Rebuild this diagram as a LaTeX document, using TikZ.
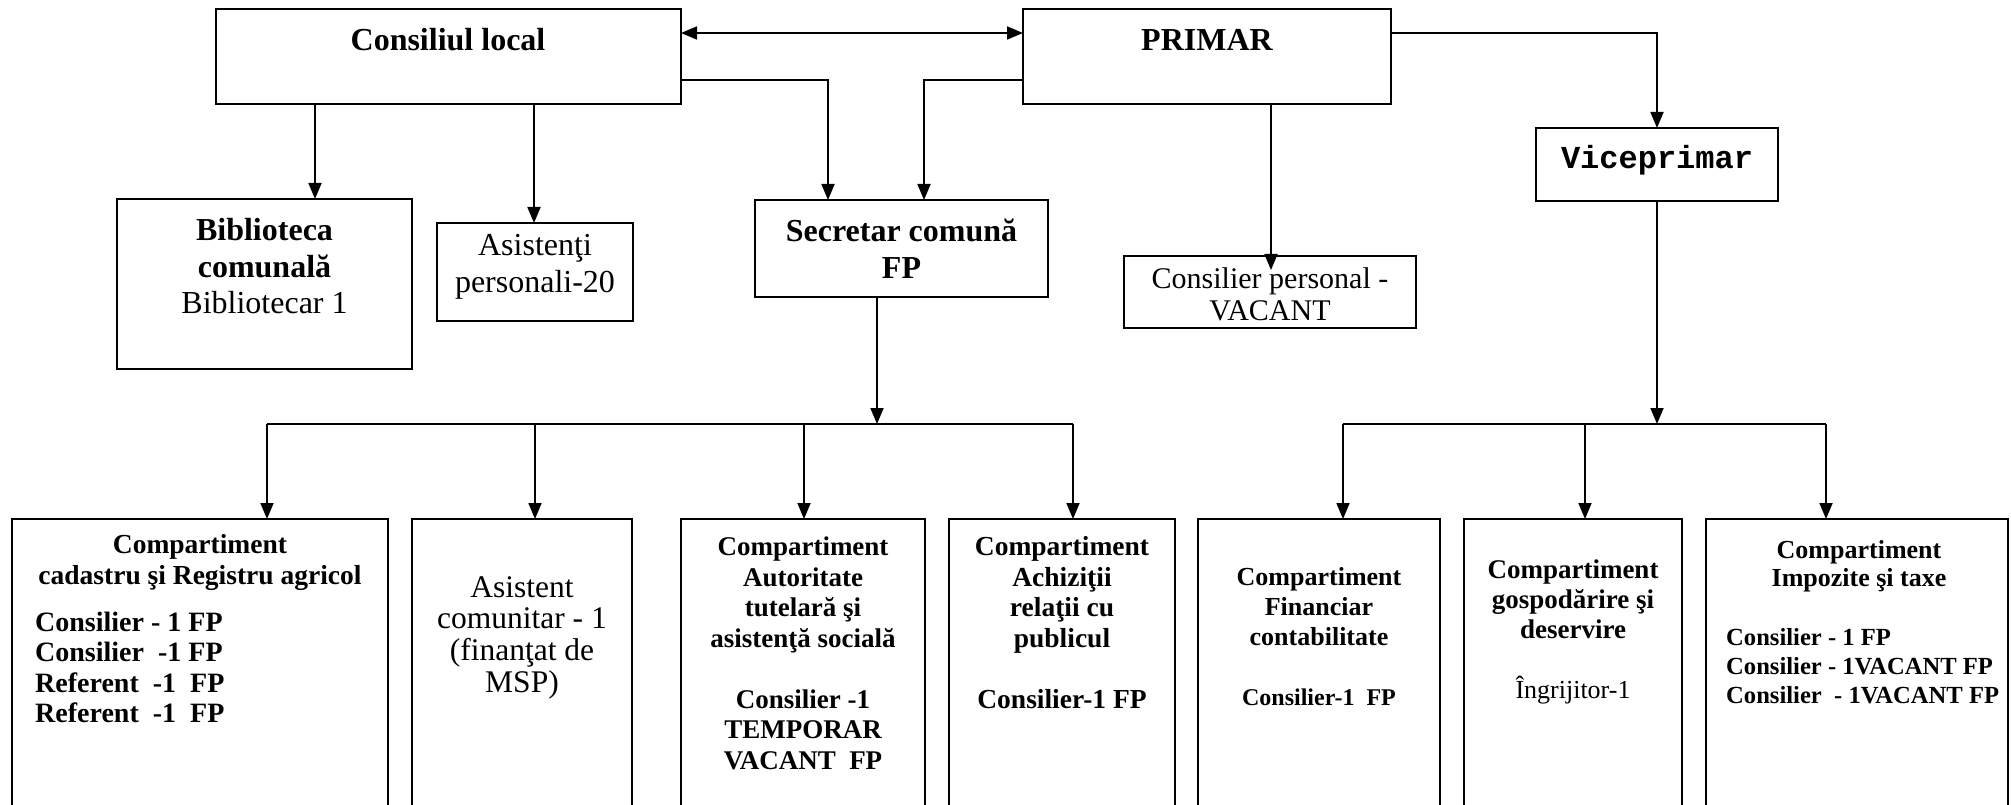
\documentclass[tikz,border=0pt]{standalone}
\usepackage{fontspec}
\setmainfont{Liberation Serif}
\setmonofont{Liberation Mono}
\usetikzlibrary{arrows.meta}
\tikzset{
  box/.style={draw, line width=1.8pt, inner sep=0pt, outer sep=0pt, anchor=north west},
  ln/.style={line width=1.8pt},
  arr/.style={line width=1.8pt, -{Triangle[length=16pt,width=13pt]}},
  arrs/.style={line width=1.8pt, {Triangle[length=16pt,width=13pt]}-{Triangle[length=16pt,width=13pt]}},
  txt/.style={inner sep=0pt, align=center},
  lst/.style={inner sep=0pt, align=left, anchor=west},
}
\begin{document}
\begin{tikzpicture}[x=1pt,y=-1pt]
\useasboundingbox (0,0) rectangle (2011,805);
\clip (0,0) rectangle (2011,805);
% top level boxes
\node[box, minimum width=465pt, minimum height=95pt] (cl) at (216,9) {};
\node[box, minimum width=368pt, minimum height=95pt] (pr) at (1023,9) {};
\node[box, minimum width=242pt, minimum height=73pt] (vp) at (1536,128) {};
\node[box, minimum width=295pt, minimum height=170pt] (bib) at (117,199) {};
\node[box, minimum width=196pt, minimum height=98pt] (asi) at (437,223) {};
\node[box, minimum width=293pt, minimum height=97pt] (sec) at (755,200) {};
\node[box, minimum width=292pt, minimum height=72pt] (csp) at (1124,256) {};
% bottom boxes
\node[box, minimum width=376pt, minimum height=295pt] (c1) at (12,519) {};
\node[box, minimum width=220pt, minimum height=295pt] (c2) at (412,519) {};
\node[box, minimum width=244pt, minimum height=295pt] (c3) at (681,519) {};
\node[box, minimum width=226pt, minimum height=295pt] (c4) at (949,519) {};
\node[box, minimum width=242pt, minimum height=295pt] (c5) at (1198,519) {};
\node[box, minimum width=218pt, minimum height=295pt] (c6) at (1464,519) {};
\node[box, minimum width=302pt, minimum height=295pt] (c7) at (1706,519) {};

% texts
\node[txt, font={\fontsize{32}{36.5}\selectfont\bfseries}] (tcl) at (448,40) {Consiliul local};
\node[txt, font={\fontsize{32}{36.5}\selectfont\bfseries}] (tpr) at (1207,40) {PRIMAR};
\node[txt, font={\fontsize{32}{36.5}\selectfont\ttfamily\bfseries}] (tvp) at (1657,160) {Viceprimar};
\node[txt, font={\fontsize{32}{36.5}\selectfont}] (tbib) at (264.5,266.5) {\textbf{Biblioteca}\\\textbf{comunală}\\Bibliotecar 1};
\node[txt, font={\fontsize{32}{36.7}\selectfont}] (tasi) at (535,266.5) {Asistenţi\\personali-20};
\node[txt, font={\fontsize{32}{36.7}\selectfont\bfseries}] (tsec) at (901.5,248.5) {Secretar comună\\FP};
\node[txt, font={\fontsize{30}{32}\selectfont}] (tcsp) at (1270,294) {Consilier personal -\\VACANT};

\node[txt, font={\fontsize{27.5}{31}\selectfont\bfseries}] (tc1) at (200,562.5) {Compartiment\\cadastru şi Registru agricol};
\node[lst, font={\fontsize{28}{30.5}\selectfont\bfseries}] (lc1) at (35,667.5) {Consilier - 1 FP\\Consilier~~-1 FP\\Referent~~-1~~FP\\Referent~~-1~~FP};
\node[txt, font={\fontsize{31.5}{31.7}\selectfont}] (tc2) at (522,637.5) {Asistent\\comunitar - 1\\(finanţat de\\MSP)};
\node[txt, font={\fontsize{27}{30.5}\selectfont\bfseries}] (tc3) at (803,653.5) {Compartiment\\Autoritate\\tutelară şi\\asistenţă socială\\[30.5pt]Consilier -1\\TEMPORAR\\VACANT~~FP};
\node[txt, font={\fontsize{27.5}{30.5}\selectfont\bfseries}] (tc4) at (1062,622.5) {Compartiment\\Achiziţii\\relaţii cu\\publicul\\[30.5pt]Consilier-1 FP};
\node[txt, font={\fontsize{26}{30}\selectfont\bfseries}] (tc5) at (1319,637) {Compartiment\\Financiar\\contabilitate\\[30pt]{\fontsize{24}{30}\selectfont Consilier-1~~FP}};
\node[txt, font={\fontsize{27}{30}\selectfont\bfseries}] (tc6) at (1573,632) {Compartiment\\gospodărire şi\\deservire\\[30pt]{\fontsize{26}{30}\selectfont\mdseries Îngrijitor-1}};
\node[txt, font={\fontsize{26}{28}\selectfont\bfseries}] (tc7) at (1859,566.5) {Compartiment\\Impozite şi taxe};
\node[lst, font={\fontsize{24.6}{29}\selectfont\bfseries}] (lc7) at (1726,666) {Consilier - 1 FP\\Consilier - 1VACANT FP\\Consilier~~- 1VACANT FP};

% connectors top
\draw[arrs] (cl.east |- 0,33) -- (pr.west |- 0,33);
\draw[arr] (315,0 |- cl.south) -- (315,0 |- bib.north);
\draw[arr] (534,0 |- cl.south) -- (534,0 |- asi.north);
\draw[arr] (cl.east |- 0,80) -- (828,80) -- (828,0 |- sec.north);
\draw[arr] (pr.west |- 0,80) -- (924,80) -- (924,0 |- sec.north);
\draw[arr] (1271,0 |- pr.south) -- (1271,270);
\draw[arr] (pr.east |- 0,33) -- (vp.north |- 0,33) -- (vp.north);

% secretar bus
\coordinate (sb) at (877,424);
\coordinate (sbL) at (267,424);
\coordinate (sbR) at (1073,424);
\draw[arr] (sb |- sec.south) -- (sb);
\draw[ln] (sbL) -- (sbR);
\draw[arr] (sbL) -- (sbL |- c1.north);
\draw[arr] (535,424) -- (535,0 |- c2.north);
\draw[arr] (804,424) -- (804,0 |- c3.north);
\draw[arr] (sbR) -- (sbR |- c4.north);

% viceprimar bus
\coordinate (vb) at (vp.south |- 0,424);
\coordinate (vbL) at (1343,424);
\coordinate (vbR) at (1826,424);
\draw[arr] (vp.south) -- (vb);
\draw[ln] (vbL) -- (vbR);
\draw[arr] (vbL) -- (vbL |- c5.north);
\draw[arr] (1585,424) -- (1585,0 |- c6.north);
\draw[arr] (vbR) -- (vbR |- c7.north);
\end{tikzpicture}
\end{document}
